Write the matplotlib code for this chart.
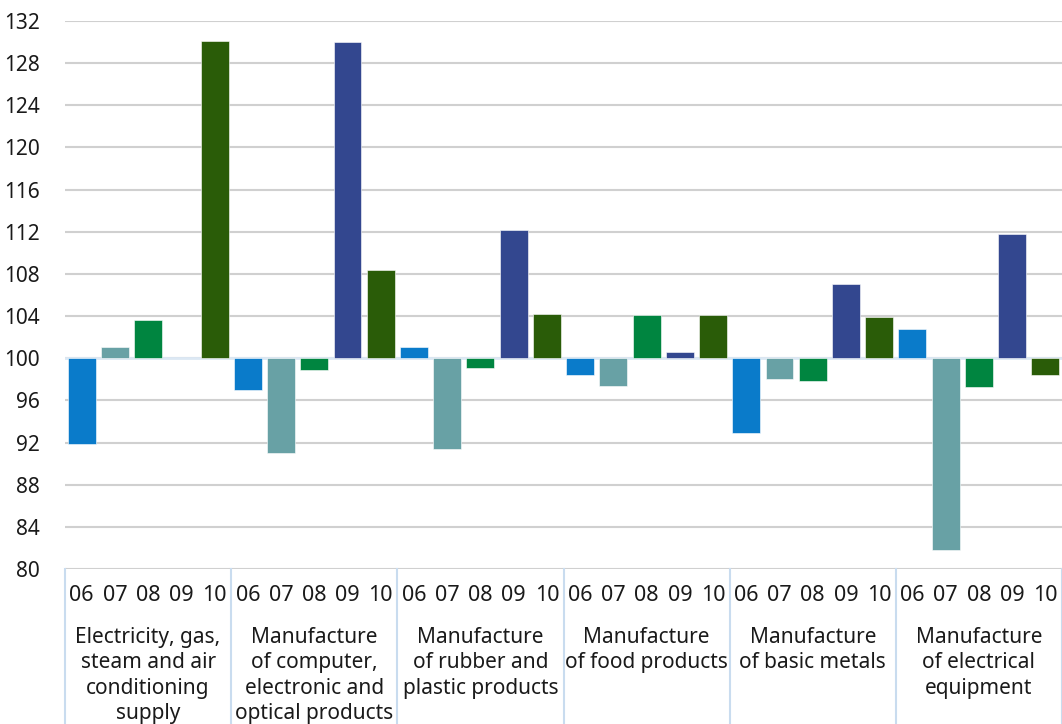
import numpy as np
import matplotlib.pyplot as plt
from matplotlib.transforms import blended_transform_factory

plt.rcParams['font.family'] = ['Noto Sans', 'DejaVu Sans']

groups = ['Electricity, gas,\nsteam and air\nconditioning\nsupply',
          'Manufacture\nof computer,\nelectronic and\noptical products',
          'Manufacture\nof rubber and\nplastic products',
          'Manufacture\nof food products',
          'Manufacture\nof basic metals',
          'Manufacture\nof electrical\nequipment']
periods = ['06', '07', '08', '09', '10']

v06 = [91.9, 97.0, 101.1, 98.4, 92.9, 102.8]
v07 = [101.1, 91.0, 91.4, 97.4, 98.0, 81.8]
v08 = [103.6, 98.9, 99.1, 104.1, 97.8, 97.3]
v09 = [np.nan, 130.0, 112.2, 100.6, 107.0, 111.8]
v10 = [130.1, 108.4, 104.2, 104.1, 103.9, 98.4]

colors = ['#0a7bca', '#68a1a5', '#008540', '#33478f', '#2a5c08']

fig = plt.figure(figsize=(10.62, 7.24), dpi=100)
ax = fig.add_axes([65 / 1062, 155 / 724, 997 / 1062, 548 / 724])

series = [v06, v07, v08, v09, v10]
n = len(periods)
for i, vals in enumerate(series):
    vals = np.array(vals)
    x = np.arange(len(groups)) * n + i
    ax.bar(x, vals - 100, bottom=100, width=0.84, color=colors[i],
           edgecolor='white', linewidth=0.4, zorder=3)

ax.set_xlim(-0.5, len(groups) * n - 0.5)
ax.set_ylim(80, 132)
ax.set_yticks(np.arange(80, 133, 4))
ax.yaxis.grid(True, color='#d0d0d0', linewidth=1.5, zorder=0)
ax.axhline(100, color='#dce8f4', linewidth=2, zorder=2)
ax.set_xticks([])
for s in ax.spines.values():
    s.set_visible(False)
ax.tick_params(axis='y', length=0, pad=18, labelsize=15, labelcolor='#1a1a1a')

trans = blended_transform_factory(ax.transData, ax.transAxes)
for g, name in enumerate(groups):
    for i, p in enumerate(periods):
        ax.text(g * n + i, -0.048, p, transform=trans, ha='center', va='center',
                fontsize=15.5, color='#1a1a1a')
    ax.text(g * n + (n - 1) / 2, -0.106, name, transform=trans, ha='center', va='top',
            fontsize=15, color='#1a1a1a', linespacing=1.27)
for g in range(len(groups) + 1):
    ax.plot([g * n - 0.5, g * n - 0.5], [0, -0.3], transform=trans, color='#c9dcef',
            linewidth=1.5, clip_on=False)

fig.savefig('out.png', dpi=100)
